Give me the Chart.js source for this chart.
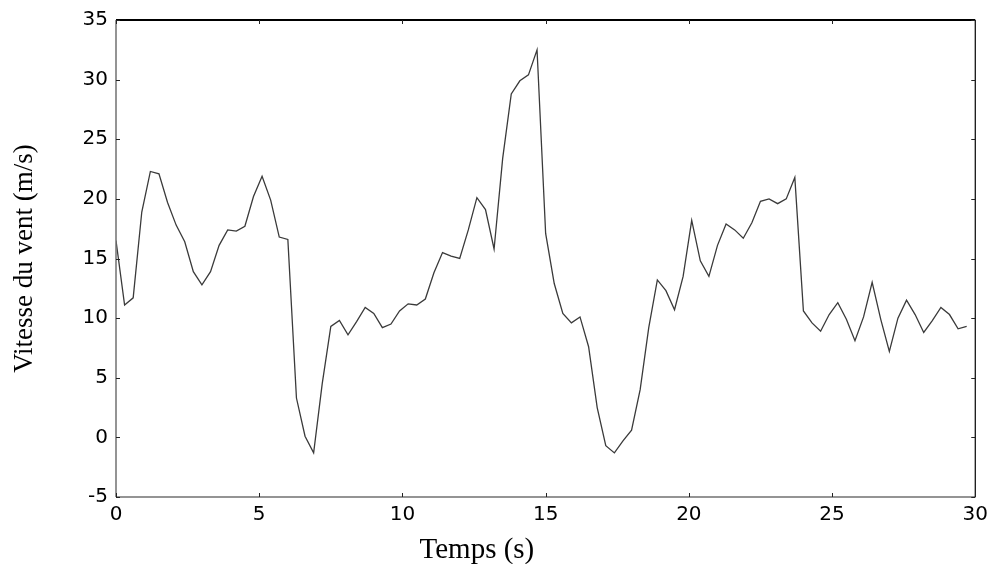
<!DOCTYPE html>
<html>
<head>
<meta charset="utf-8">
<script src="https://cdn.jsdelivr.net/npm/chart.js@4"></script>
<style>
  html, body { margin: 0; padding: 0; background: #fff; }
  #wrap { width: 994px; height: 564px; }
</style>
</head>
<body>
<div id="wrap"><canvas id="windChart" width="994" height="564"></canvas></div>
<script>
// time samples (s), one every 0.3 s
const times = [
  0.0, 0.3, 0.6, 0.9, 1.2, 1.5, 1.8, 2.1, 2.4, 2.7,
  3.0, 3.3, 3.6, 3.9, 4.2, 4.5, 4.8, 5.1, 5.4, 5.7,
  6.0, 6.3, 6.6, 6.9, 7.2, 7.5, 7.8, 8.1, 8.4, 8.7,
  9.0, 9.3, 9.6, 9.9, 10.2, 10.5, 10.8, 11.1, 11.4, 11.7,
  12.0, 12.3, 12.6, 12.9, 13.2, 13.5, 13.8, 14.1, 14.4, 14.7,
  15.0, 15.3, 15.6, 15.9, 16.2, 16.5, 16.8, 17.1, 17.4, 17.7,
  18.0, 18.3, 18.6, 18.9, 19.2, 19.5, 19.8, 20.1, 20.4, 20.7,
  21.0, 21.3, 21.6, 21.9, 22.2, 22.5, 22.8, 23.1, 23.4, 23.7,
  24.0, 24.3, 24.6, 24.9, 25.2, 25.5, 25.8, 26.1, 26.4, 26.7,
  27.0, 27.3, 27.6, 27.9, 28.2, 28.5, 28.8, 29.1, 29.4, 29.7
];

// wind speed (m/s)
const windSpeed = [
  16.5, 11.1, 11.7, 18.9, 22.3, 22.1, 19.7, 17.8, 16.4, 13.9,
  12.8, 13.9, 16.1, 17.4, 17.3, 17.7, 20.2, 21.9, 19.9, 16.8,
  16.6, 3.3, 0.1, -1.3, 4.5, 9.3, 9.8, 8.6, 9.7, 10.9,
  10.4, 9.2, 9.5, 10.6, 11.2, 11.1, 11.6, 13.8, 15.5, 15.2,
  15.0, 17.4, 20.1, 19.1, 15.8, 23.4, 28.8, 29.9, 30.4, 32.5,
  17.1, 12.9, 10.4, 9.6, 10.1, 7.6, 2.5, -0.7, -1.3, -0.3,
  0.6, 4.0, 9.2, 13.2, 12.3, 10.7, 13.5, 18.2, 14.8, 13.5,
  16.1, 17.9, 17.4, 16.7, 18.0, 19.8, 20.0, 19.6, 20.0, 21.8,
  10.6, 9.6, 8.9, 10.3, 11.3, 9.9, 8.1, 10.1, 13.0, 9.9,
  7.2, 10.0, 11.5, 10.3, 8.8, 9.8, 10.9, 10.3, 9.1, 9.3
];

const xTickValues = [0, 5, 10, 15, 20, 25, 30];
const yTickValues = [-5, 0, 5, 10, 15, 20, 25, 30, 35];

const xTitle = "Temps (s)";
const yTitle = "Vitesse du vent (m/s)";

// box round the plot with short inward ticks, plus the two axis titles
const framePlugin = {
  id: "frame",
  afterDatasetsDraw(chart) {
    const { ctx, chartArea: a, scales: { x, y } } = chart;
    const line = (x1, y1, x2, y2) => {
      ctx.beginPath();
      ctx.moveTo(x1, y1);
      ctx.lineTo(x2, y2);
      ctx.stroke();
    };
    ctx.save();
    ctx.lineWidth = 1.5;
    ctx.strokeStyle = "#707070";
    line(a.left, a.top, a.left, a.bottom);
    line(a.left, a.bottom, a.right, a.bottom);
    ctx.strokeStyle = "#000";
    ctx.lineWidth = 2;
    line(a.left, a.top, a.right, a.top);
    ctx.lineWidth = 1.2;
    line(a.right, a.top, a.right, a.bottom);

    ctx.lineWidth = 1;
    ctx.strokeStyle = "#222";
    xTickValues.forEach((v) => {
      const px = Math.round(x.getPixelForValue(v)) + 0.5;
      line(px, a.bottom, px, a.bottom - 4);
      line(px, a.top, px, a.top + 4);
    });
    yTickValues.forEach((v) => {
      const py = Math.round(y.getPixelForValue(v)) + 0.5;
      line(a.left, py, a.left + 4, py);
      line(a.right, py, a.right - 4, py);
    });

    // axis titles
    ctx.fillStyle = "#000";
    ctx.textAlign = "center";
    ctx.textBaseline = "middle";
    ctx.font = "29px 'Liberation Serif'";
    ctx.fillText(xTitle, a.left + (a.right - a.left) * 0.42, a.bottom + 53);
    ctx.translate(a.left - 91, (a.top + a.bottom) / 2);
    ctx.rotate(-Math.PI / 2);
    ctx.font = "27px 'Liberation Serif'";
    ctx.fillText(yTitle, 0, 0);
    ctx.restore();
  },
};

const points = times.map((t, i) => ({ x: t, y: windSpeed[i] }));

new Chart(document.getElementById("windChart"), {
  type: "line",
  data: {
    datasets: [
      {
        data: points,
        borderColor: "#3a3a3a",
        borderWidth: 1.3,
        pointRadius: 0,
        tension: 0,
        fill: false,
      },
    ],
  },
  options: {
    responsive: false,
    animation: false,
    layout: { padding: { left: 0, right: 17, top: 17, bottom: 0 } },
    plugins: {
      legend: { display: false },
      tooltip: { enabled: false },
    },
    scales: {
      x: {
        type: "linear",
        min: 0,
        max: 30,
        afterBuildTicks: (s) => { s.ticks = xTickValues.map((v) => ({ value: v })); },
        afterFit: (s) => { s.height = 67; },
        grid: { display: false, drawTicks: false, tickLength: 0 },
        border: { display: false },
        ticks: { color: "#000", padding: 6, maxRotation: 0, font: { family: "DejaVu Sans", size: 20 } },
      },
      y: {
        min: -5,
        max: 35,
        afterBuildTicks: (s) => { s.ticks = yTickValues.map((v) => ({ value: v })); },
        afterFit: (s) => { s.width = 116; },
        grid: { display: false, drawTicks: false, tickLength: 0 },
        border: { display: false },
        ticks: { color: "#000", padding: 8, font: { family: "DejaVu Sans", size: 20 } },
      },
    },
  },
  plugins: [framePlugin],
});
</script>
</body>
</html>
